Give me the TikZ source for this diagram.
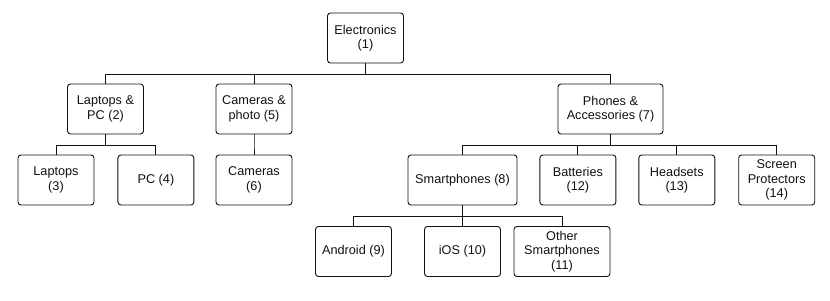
\documentclass[tikz,border=0pt]{standalone}
\usepackage{fontspec}
\setmainfont{Liberation Sans}
\usepackage{xcolor}
\definecolor{cLine}{HTML}{111111}
\definecolor{cText}{HTML}{111111}
\usepackage{tikz}
\usetikzlibrary{positioning}
\tikzset{
  cat-box/.style={draw=cLine,line width=0.9pt,rounded corners=3pt,
    minimum height=50pt,minimum width=76pt,align=center,text=cText,
    inner sep=2pt,font=\fontsize{12.7}{14.3}\selectfont},
  tree-link/.style={draw=cLine,line width=0.9pt},
}
\begin{document}
\begin{tikzpicture}[x=1pt,y=-1pt,node distance=23pt]
  \useasboundingbox (0,0) rectangle (830,300);
  % top
  \node[cat-box] (elec) at (365.5,38) {Electronics\\(1)};
  % level 1
  \node[cat-box] (lpc) at (105.5,109) {Laptops \&\\PC (2)};
  \node[cat-box] (cph) at (254,109)   {Cameras \&\\photo (5)};
  \node[cat-box,minimum width=105pt] (pha) at (610.5,109) {Phones \&\\Accessories (7)};
  % level 2
  \node[cat-box] (lap) at (56,180) {Laptops\\(3)};
  \node[cat-box,right=of lap] (pc)  {PC (4)};
  \node[cat-box] (cam) at (254,180) {Cameras\\(6)};
  \node[cat-box,minimum width=109pt] (smp) at (462.5,180) {Smartphones (8)};
  \node[cat-box,right=22pt of smp] (bat) {Batteries\\(12)};
  \node[cat-box,right=22pt of bat] (hds) {Headsets\\(13)};
  \node[cat-box,right=of hds]      (scr) {Screen\\Protectors\\(14)};
  % level 3
  \node[cat-box] (and) at (353.5,251.5) {Android (9)};
  \node[cat-box] (ios) at (462.5,251.5) {iOS (10)};
  \node[cat-box,minimum width=96pt] (oth) at (562,251.5) {Other\\Smartphones\\(11)};
  \foreach \p/\c in {elec/lpc,elec/cph,elec/pha,lpc/lap,lpc/pc,cph/cam,
      pha/smp,pha/bat,pha/hds,pha/scr,smp/and,smp/ios,smp/oth}
    \draw[tree-link] (\p.south) -- ++(0,10.5) -| (\c.north);
\end{tikzpicture}
\end{document}
